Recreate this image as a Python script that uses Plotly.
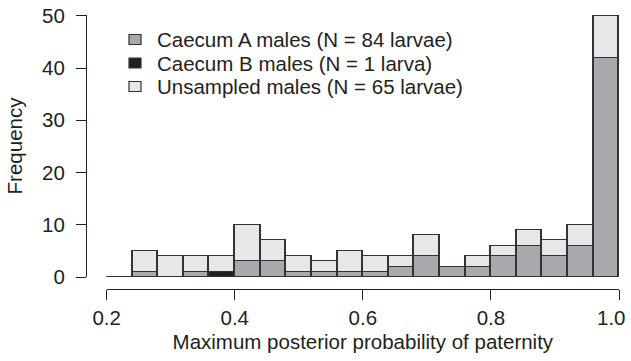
import plotly.graph_objects as go

bin_width = 0.04
bin_starts = [0.20, 0.24, 0.28, 0.32, 0.36, 0.40, 0.44, 0.48, 0.52, 0.56,
              0.60, 0.64, 0.68, 0.72, 0.76, 0.80, 0.84, 0.88, 0.92, 0.96]
caecum_a = [0, 1, 0, 1, 0, 3, 3, 1, 1, 1, 1, 2, 4, 2, 2, 4, 6, 4, 6, 42]
caecum_b = [0, 0, 0, 0, 1, 0, 0, 0, 0, 0, 0, 0, 0, 0, 0, 0, 0, 0, 0, 0]
unsampled = [0, 4, 4, 3, 3, 7, 4, 3, 2, 4, 3, 2, 4, 0, 2, 2, 3, 3, 4, 8]
series_names = ["Caecum A males (N = 84 larvae)",
                "Caecum B males (N = 1 larva)",
                "Unsampled males (N = 65 larvae)"]
x_ticks = [0.2, 0.4, 0.6, 0.8, 1.0]
x_ticktext = ["0.2", "0.4", "0.6", "0.8", "1.0"]
y_ticks = [0, 10, 20, 30, 40, 50]

FONT = "Liberation Sans, Arial, Helvetica, sans-serif"
FS = 20.5
INK = "#231f20"
EDGE = "#333333"
colors = ["#a7a9ac", "#231f20", "#e6e7e8"]

# page geometry (pixels)
W, H = 631, 361
ML, MR, MT, MB = 86, 12, 15, 72
PW, PH = W - ML - MR, H - MT - MB


def px_x(p):
    return (p - ML) / PW


def px_y(p):
    return (H - MB - p) / PH


centers = [s + bin_width / 2 for s in bin_starts]

fig = go.Figure()
for name, vals, col in zip(series_names, [caecum_a, caecum_b, unsampled], colors):
    fig.add_trace(go.Bar(
        x=centers, y=vals, width=bin_width, name=name,
        marker=dict(color=col, line=dict(color=EDGE, width=1.4)),
        showlegend=False,
    ))

# empty bins drawn as a flat line at zero (as in a histogram)
for s, a, b, u in zip(bin_starts, caecum_a, caecum_b, unsampled):
    if a + b + u == 0:
        fig.add_trace(go.Scatter(
            x=[s, s + bin_width], y=[0, 0], mode="lines",
            line=dict(color=EDGE, width=1.4), showlegend=False,
            hoverinfo="skip"))

# legend (drawn as keys + text, R style)
legend_rows = [39.5, 63, 86.5]
shapes = []
annotations = []
for name, col, yc in zip(series_names, colors, legend_rows):
    shapes.append(dict(type="rect", xref="paper", yref="paper",
                       x0=px_x(129), x1=px_x(141),
                       y0=px_y(yc + 5), y1=px_y(yc - 5),
                       fillcolor=col, line=dict(color=EDGE, width=1.2)))
    annotations.append(dict(text=name, xref="paper", yref="paper",
                            x=px_x(155), y=px_y(yc), xanchor="left",
                            yanchor="middle", showarrow=False,
                            font=dict(size=FS, color=INK, family=FONT)))

# last tick label, kept inside the page as in the reference
annotations.append(dict(text=x_ticktext[-1], xref="x", yref="paper",
                        x=x_ticks[-1], y=px_y(317), xanchor="right",
                        yanchor="middle", xshift=9, showarrow=False,
                        font=dict(size=FS, color=INK, family=FONT)))

fig.update_layout(
    width=W, height=H,
    margin=dict(l=ML, r=MR, t=MT, b=MB),
    barmode="stack", bargap=0,
    paper_bgcolor="white", plot_bgcolor="white",
    font=dict(family=FONT, size=FS, color=INK),
    showlegend=False,
    shapes=shapes, annotations=annotations,
    xaxis=dict(domain=[px_x(106.7), 1.0], range=[0.2, 1.0],
               anchor="free", position=0, automargin=False,
               tickvals=x_ticks, ticktext=x_ticktext[:-1] + [""],
               ticks="outside", ticklen=10, tickwidth=1.2, tickcolor=INK,
               showline=True, linecolor=INK, linewidth=1.2,
               showgrid=False, zeroline=False,
               tickfont=dict(size=FS, color=INK),
               title=dict(text="Maximum posterior probability of paternity",
                          font=dict(size=FS, color=INK), standoff=6)),
    yaxis=dict(domain=[px_y(277), 1.0], range=[0, 50.15],
               anchor="free", position=0, automargin=False,
               tickvals=y_ticks,
               ticks="outside", ticklen=10, tickwidth=1.2, tickcolor=INK,
               showline=True, linecolor=INK, linewidth=1.2,
               showgrid=False, zeroline=False,
               tickfont=dict(size=FS, color=INK), ticklabelstandoff=7,
               title=dict(text="Frequency", font=dict(size=FS, color=INK),
                          standoff=12)),
)

fig.write_html("out.html", config={"displayModeBar": False},
               post_script="document.body.style.margin='0';")
